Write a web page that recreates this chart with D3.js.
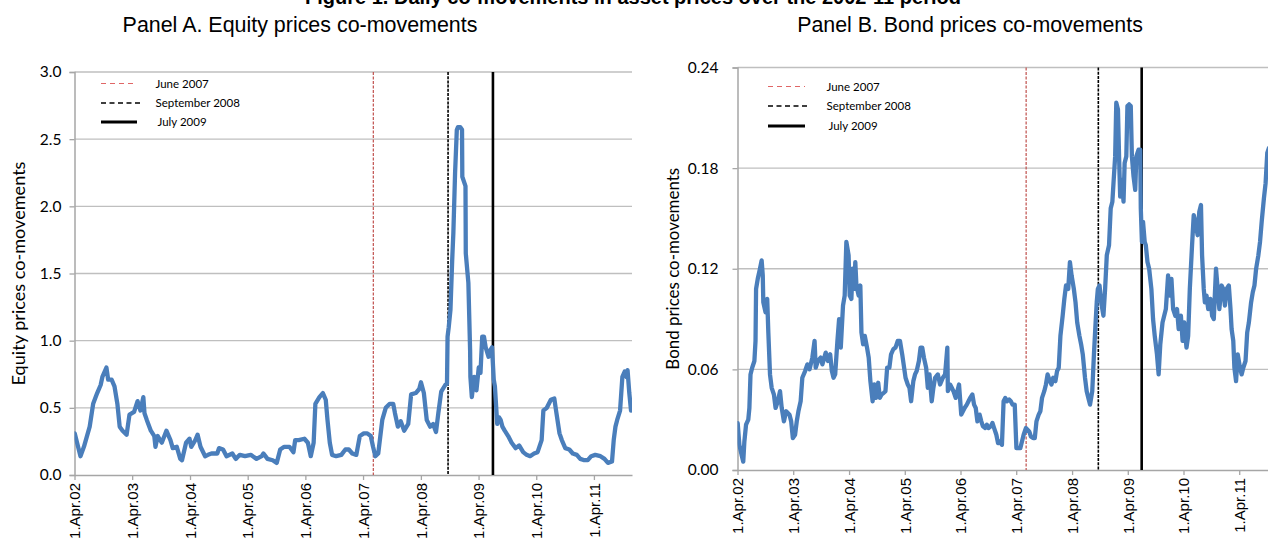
<!DOCTYPE html>
<html><head><meta charset="utf-8">
<script src="https://cdn.jsdelivr.net/npm/d3@7"></script>
<style>body{margin:0;background:#fff;}svg{display:block;}</style>
</head><body>
<svg id="chart" width="1268" height="543"></svg>
<script>
// ---------------- DATA ----------------
const chartTitle = "Figure 1. Daily co-movements in asset prices over the 2002-11 period";
const panelTitles = ["Panel A. Equity prices co-movements", "Panel B. Bond prices co-movements"];
const yTitles = ["Equity prices co-movements", "Bond prices co-movements"];
const tickLabels = ["1.Apr.02","1.Apr.03","1.Apr.04","1.Apr.05","1.Apr.06","1.Apr.07","1.Apr.08","1.Apr.09","1.Apr.10","1.Apr.11"];
const tickDates = ["2002-04-01","2003-04-01","2004-04-01","2005-04-01","2006-04-01","2007-04-01","2008-04-01","2009-04-01","2010-04-01","2011-04-01"];
const axisStart = "2002-04-01", axisEnd = "2011-11-28";
const equityTicks = [0, 0.5, 1.0, 1.5, 2.0, 2.5, 3.0];
const bondTicks = [0, 0.06, 0.12, 0.18, 0.24];
const eventDates = ["2007-06-05", "2008-09-20", "2009-07-01"];
const eventLabels = ["June 2007", "September 2008", "July 2009"];

// decimal-year dates and values
const equityYears = [2002.25,2002.35,2002.41,2002.51,2002.57,2002.64,2002.70,2002.73,2002.80,2002.83,2002.89,2002.94,2002.99,2003.03,2003.08,2003.15,2003.20,2003.28,2003.34,2003.39,2003.44,2003.46,2003.50,2003.57,2003.63,2003.65,2003.69,2003.76,2003.84,2003.91,2003.95,2004.02,2004.08,2004.11,2004.18,2004.24,2004.27,2004.34,2004.38,2004.43,2004.51,2004.56,2004.62,2004.72,2004.75,2004.82,2004.88,2004.98,2005.04,2005.11,2005.20,2005.30,2005.40,2005.49,2005.52,2005.59,2005.68,2005.75,2005.81,2005.88,2005.97,2006.04,2006.07,2006.13,2006.23,2006.29,2006.34,2006.39,2006.42,2006.49,2006.55,2006.60,2006.63,2006.67,2006.71,2006.78,2006.87,2006.94,2007.00,2007.06,2007.13,2007.19,2007.26,2007.32,2007.38,2007.42,2007.46,2007.51,2007.58,2007.64,2007.71,2007.77,2007.80,2007.85,2007.90,2007.96,2008.03,2008.08,2008.16,2008.22,2008.25,2008.30,2008.35,2008.41,2008.46,2008.51,2008.55,2008.60,2008.67,2008.70,2008.71,2008.73,2008.76,2008.79,2008.81,2008.84,2008.87,2008.89,2008.93,2008.96,2008.965,2009.02,2009.025,2009.07,2009.10,2009.105,2009.13,2009.17,2009.21,2009.25,2009.28,2009.31,2009.34,2009.37,2009.42,2009.45,2009.48,2009.51,2009.53,2009.57,2009.60,2009.63,2009.66,2009.70,2009.76,2009.82,2009.89,2009.95,2010.02,2010.08,2010.14,2010.21,2010.27,2010.34,2010.37,2010.43,2010.50,2010.56,2010.59,2010.65,2010.69,2010.75,2010.82,2010.88,2010.95,2011.01,2011.08,2011.14,2011.20,2011.27,2011.36,2011.43,2011.49,2011.56,2011.59,2011.62,2011.65,2011.70,2011.74,2011.78,2011.81,2011.83,2011.86,2011.89];
const equityValues = [0.31,0.14,0.21,0.36,0.53,0.61,0.67,0.73,0.80,0.71,0.71,0.66,0.53,0.36,0.33,0.30,0.45,0.47,0.55,0.48,0.58,0.46,0.41,0.33,0.29,0.21,0.29,0.24,0.33,0.26,0.20,0.21,0.12,0.11,0.24,0.27,0.21,0.26,0.30,0.21,0.14,0.15,0.16,0.16,0.20,0.19,0.14,0.16,0.12,0.15,0.14,0.15,0.12,0.14,0.16,0.12,0.11,0.09,0.19,0.21,0.21,0.17,0.26,0.26,0.27,0.24,0.14,0.24,0.53,0.58,0.61,0.56,0.41,0.24,0.15,0.14,0.15,0.19,0.19,0.16,0.15,0.29,0.31,0.31,0.29,0.21,0.14,0.16,0.41,0.50,0.53,0.53,0.46,0.36,0.40,0.33,0.38,0.60,0.61,0.64,0.69,0.61,0.41,0.36,0.38,0.32,0.46,0.62,0.67,0.68,1.03,1.10,1.23,1.60,1.80,2.25,2.57,2.59,2.59,2.57,2.22,2.15,1.65,1.43,0.93,0.73,0.58,0.73,0.63,0.80,0.76,1.03,1.03,0.95,0.88,0.93,0.95,0.71,0.66,0.38,0.43,0.41,0.36,0.33,0.29,0.24,0.20,0.22,0.17,0.15,0.14,0.16,0.17,0.26,0.48,0.50,0.56,0.57,0.48,0.31,0.26,0.20,0.19,0.16,0.15,0.12,0.11,0.11,0.14,0.15,0.14,0.12,0.09,0.10,0.26,0.36,0.41,0.48,0.73,0.77,0.73,0.78,0.61,0.48];

const bondYears = [2002.25,2002.28,2002.32,2002.35,2002.37,2002.40,2002.44,2002.46,2002.48,2002.51,2002.55,2002.57,2002.58,2002.61,2002.65,2002.68,2002.70,2002.71,2002.75,2002.78,2002.80,2002.83,2002.86,2002.90,2002.93,2002.97,2003.01,2003.04,2003.08,2003.12,2003.18,2003.21,2003.24,2003.28,2003.31,2003.34,2003.38,2003.41,2003.46,2003.50,2003.54,2003.59,2003.63,2003.65,2003.69,2003.74,2003.77,2003.83,2003.87,2003.91,2003.94,2003.97,2004.00,2004.04,2004.07,2004.10,2004.14,2004.17,2004.20,2004.24,2004.26,2004.29,2004.31,2004.34,2004.36,2004.38,2004.42,2004.45,2004.47,2004.50,2004.53,2004.57,2004.60,2004.63,2004.67,2004.70,2004.73,2004.77,2004.80,2004.83,2004.87,2004.90,2004.93,2004.97,2005.00,2005.04,2005.08,2005.12,2005.16,2005.20,2005.23,2005.26,2005.30,2005.33,2005.36,2005.40,2005.43,2005.46,2005.50,2005.53,2005.56,2005.59,2005.63,2005.66,2005.69,2005.73,2005.76,2005.79,2005.84,2005.88,2005.93,2005.97,2006.01,2006.02,2006.06,2006.09,2006.12,2006.16,2006.19,2006.22,2006.26,2006.29,2006.32,2006.36,2006.39,2006.42,2006.46,2006.49,2006.52,2006.55,2006.59,2006.62,2006.65,2006.69,2006.72,2006.75,2006.79,2006.82,2006.85,2006.89,2006.92,2006.95,2006.99,2007.02,2007.05,2007.08,2007.12,2007.15,2007.18,2007.22,2007.25,2007.28,2007.32,2007.35,2007.38,2007.42,2007.45,2007.48,2007.51,2007.55,2007.58,2007.61,2007.65,2007.68,2007.71,2007.75,2007.78,2007.81,2007.85,2007.88,2007.91,2007.95,2007.98,2008.01,2008.04,2008.08,2008.11,2008.14,2008.18,2008.21,2008.24,2008.28,2008.31,2008.34,2008.38,2008.41,2008.44,2008.48,2008.51,2008.54,2008.57,2008.61,2008.64,2008.67,2008.69,2008.71,2008.74,2008.77,2008.81,2008.84,2008.87,2008.91,2008.94,2008.97,2008.99,2009.02,2009.04,2009.07,2009.09,2009.11,2009.14,2009.17,2009.19,2009.22,2009.24,2009.27,2009.30,2009.32,2009.35,2009.38,2009.40,2009.44,2009.47,2009.48,2009.50,2009.52,2009.55,2009.57,2009.60,2009.63,2009.67,2009.70,2009.73,2009.77,2009.80,2009.83,2009.87,2009.90,2009.93,2009.97,2010.00,2010.03,2010.06,2010.10,2010.13,2010.16,2010.20,2010.23,2010.26,2010.30,2010.33,2010.36,2010.40,2010.43,2010.46,2010.50,2010.53,2010.56,2010.58,2010.61,2010.63,2010.66,2010.69,2010.73,2010.76,2010.79,2010.83,2010.86,2010.89,2010.93,2010.96,2010.99,2011.02,2011.06,2011.09,2011.11,2011.14,2011.16,2011.19,2011.22,2011.26,2011.29,2011.32,2011.36,2011.39,2011.42,2011.46,2011.49,2011.52,2011.55,2011.59,2011.62,2011.65,2011.69,2011.72,2011.75,2011.78];
const bondValues = [0.028,0.015,0.009,0.005,0.017,0.027,0.030,0.037,0.057,0.061,0.065,0.077,0.108,0.114,0.120,0.125,0.116,0.100,0.094,0.102,0.082,0.057,0.049,0.045,0.037,0.041,0.047,0.037,0.029,0.035,0.033,0.029,0.019,0.021,0.029,0.035,0.041,0.055,0.059,0.063,0.060,0.067,0.077,0.061,0.065,0.067,0.063,0.070,0.065,0.069,0.059,0.055,0.057,0.077,0.090,0.073,0.098,0.104,0.136,0.128,0.104,0.102,0.120,0.108,0.124,0.110,0.104,0.110,0.082,0.075,0.080,0.073,0.067,0.053,0.041,0.051,0.043,0.052,0.043,0.045,0.046,0.047,0.061,0.061,0.069,0.072,0.073,0.077,0.077,0.069,0.062,0.055,0.051,0.049,0.041,0.053,0.057,0.059,0.065,0.073,0.073,0.067,0.061,0.049,0.057,0.041,0.049,0.055,0.057,0.051,0.055,0.057,0.073,0.047,0.051,0.049,0.047,0.043,0.047,0.051,0.033,0.035,0.037,0.039,0.041,0.043,0.045,0.039,0.037,0.029,0.033,0.029,0.026,0.025,0.027,0.025,0.026,0.028,0.025,0.021,0.016,0.017,0.015,0.041,0.043,0.041,0.042,0.041,0.039,0.039,0.013,0.013,0.013,0.017,0.021,0.025,0.024,0.023,0.020,0.019,0.019,0.029,0.033,0.035,0.043,0.047,0.051,0.057,0.053,0.051,0.055,0.053,0.059,0.061,0.080,0.092,0.102,0.110,0.108,0.124,0.116,0.108,0.100,0.088,0.080,0.075,0.069,0.055,0.047,0.043,0.039,0.047,0.069,0.088,0.100,0.108,0.110,0.100,0.092,0.108,0.128,0.134,0.156,0.160,0.171,0.187,0.219,0.215,0.187,0.163,0.173,0.160,0.183,0.187,0.217,0.218,0.217,0.187,0.175,0.167,0.187,0.191,0.191,0.156,0.136,0.148,0.136,0.134,0.124,0.120,0.108,0.090,0.080,0.069,0.057,0.075,0.088,0.092,0.096,0.116,0.104,0.114,0.096,0.092,0.096,0.084,0.092,0.077,0.088,0.073,0.080,0.108,0.134,0.152,0.148,0.140,0.154,0.158,0.128,0.108,0.100,0.104,0.096,0.102,0.092,0.090,0.120,0.108,0.096,0.110,0.108,0.098,0.108,0.110,0.096,0.084,0.077,0.061,0.053,0.069,0.061,0.057,0.061,0.065,0.082,0.088,0.100,0.106,0.110,0.120,0.128,0.136,0.148,0.162,0.171,0.189,0.192];

// ---------------- HELPERS ----------------
const parse = d3.timeParse("%Y-%m-%d");
function fromDecimalYear(v){
  const y = Math.floor(v);
  const a = new Date(y,0,1), b = new Date(y+1,0,1);
  return new Date(+a + (v - y) * (b - a));
}
function fitText(sel, target){
  const node = sel.node();
  const fs = parseFloat(sel.attr("font-size"));
  const w = node.getComputedTextLength();
  if (w > 0) sel.attr("font-size", (fs * target / w).toFixed(2));
}

const svg = d3.select("#chart");
const BLUE = "#4a7ebb", GRID = "#bfbfbf", AXIS = "#a6a6a6";
const SANS = "'Liberation Sans', Arial, sans-serif";
const CAL = "Lato, 'Open Sans', sans-serif";

// Main title (partially cut off at top, as in the original)
svg.append("text").attr("x", 633).attr("y", 4).attr("text-anchor","middle")
  .attr("font-family", SANS).attr("font-weight","bold").attr("font-size", 20)
  .attr("fill","#000").text(chartTitle);

const panels = [
  {left:74.5, right:632, top:72, bottom:475, ticks:equityTicks, fmt:d3.format(".1f"),
   years:equityYears, values:equityValues, title:panelTitles[0], titleX:300, titleW:355,
   yTitle:yTitles[0], yTitleX:19, yTitleLen:224, yPad:8,
   legend:{lineX:[101,137], textX:155.5, rows:[83.5,103,122]}},
  {left:737.5, right:1276, top:67.5, bottom:470, ticks:bondTicks, fmt:d3.format(".2f"),
   years:bondYears, values:bondValues, title:panelTitles[1], titleX:970, titleW:346,
   yTitle:yTitles[1], yTitleX:673, yTitleLen:202, yPad:14,
   legend:{lineX:[768,805], textX:826.5, rows:[86.5,106,126]}}
];

panels.forEach(p => {
  const g = svg.append("g");
  const x = d3.scaleTime().domain([parse(axisStart), parse(axisEnd)]).range([p.left, p.right]);
  const y = d3.scaleLinear().domain([0, d3.max(p.ticks)]).range([p.bottom, p.top]);

  const t = g.append("text").attr("x", p.titleX).attr("y", 32).attr("text-anchor","middle")
    .attr("font-family", SANS).attr("font-size", 18).attr("fill","#000").text(p.title);
  fitText(t, p.titleW);

  g.append("g").selectAll("line").data(p.ticks.filter(v => v > 0)).join("line")
    .attr("x1", p.left).attr("x2", p.right)
    .attr("y1", d => y(d)).attr("y2", d => y(d))
    .attr("stroke", GRID).attr("stroke-width", 1.3);

  const ya = g.append("g").attr("transform", `translate(${p.left},0)`)
    .call(d3.axisLeft(y).tickValues(p.ticks).tickFormat(p.fmt).tickSize(5).tickPadding(p.yPad));
  ya.select(".domain").attr("stroke", AXIS).attr("stroke-width", 1.5);
  ya.selectAll(".tick line").attr("stroke", AXIS).attr("stroke-width", 1.3);
  ya.selectAll(".tick text").attr("font-family", CAL).attr("font-size", 15.5).attr("fill","#000");

  const xa = g.append("g").attr("transform", `translate(0,${p.bottom})`)
    .call(d3.axisBottom(x).tickValues(tickDates.map(parse))
      .tickFormat((d,i) => tickLabels[i]).tickSize(5).tickSizeOuter(0));
  xa.select(".domain").attr("stroke", AXIS).attr("stroke-width", 1.5);
  xa.selectAll(".tick line").attr("stroke", AXIS).attr("stroke-width", 1.3);
  xa.selectAll(".tick text").attr("font-family", SANS).attr("font-size", 15).attr("fill","#000")
    .attr("text-anchor","end").attr("transform","rotate(-90)")
    .attr("x", -8).attr("y", 0).attr("dy", "0.35em");

  const yt = g.append("text").attr("transform", `translate(${p.yTitleX},${(p.top+p.bottom)/2}) rotate(-90)`)
    .attr("text-anchor","middle").attr("dy","0.35em")
    .attr("font-family", CAL).attr("font-size", 15).attr("fill","#000").text(p.yTitle);
  fitText(yt, p.yTitleLen);

  const clipId = "clip" + Math.round(p.left);
  svg.append("clipPath").attr("id", clipId).append("rect")
    .attr("x", p.left).attr("y", p.top - 5).attr("width", p.right - p.left).attr("height", p.bottom - p.top + 5);

  const styles = [
    {stroke:"#c0504d", width:1.2, dash:"3,1.5"},
    {stroke:"#000", width:1.6, dash:"3,1.2"},
    {stroke:"#000", width:2.6, dash:null}
  ];
  eventDates.forEach((d,i) => {
    const s = styles[i];
    g.append("line").attr("x1", x(parse(d))).attr("x2", x(parse(d)))
      .attr("y1", p.top).attr("y2", p.bottom)
      .attr("stroke", s.stroke).attr("stroke-width", s.width)
      .attr("stroke-dasharray", s.dash);
  });

  const data = p.years.map((yr,i) => ({date: fromDecimalYear(yr), v: p.values[i]}));
  g.append("path").datum(data).attr("clip-path", `url(#${clipId})`)
    .attr("fill","none").attr("stroke", BLUE).attr("stroke-width", 4.3)
    .attr("stroke-linejoin","round").attr("stroke-linecap","round")
    .attr("d", d3.line().x(d => x(d.date)).y(d => y(d.v)));

  const legStyles = [
    {stroke:"#e06666", width:1.2, dash:"5,4"},
    {stroke:"#000", width:1.3, dash:"5,3.5"},
    {stroke:"#000", width:3.2, dash:null}
  ];
  eventLabels.forEach((lab,i) => {
    const s = legStyles[i];
    const ry = p.legend.rows[i];
    g.append("line").attr("x1", p.legend.lineX[0]).attr("x2", p.legend.lineX[1] + (i===1?5:0))
      .attr("y1", ry).attr("y2", ry)
      .attr("stroke", s.stroke).attr("stroke-width", s.width).attr("stroke-dasharray", s.dash);
    g.append("text").attr("x", p.legend.textX + (i===2?2:0)).attr("y", ry).attr("dy","0.35em")
      .attr("font-family", CAL).attr("font-size", 11.5).attr("fill","#000").text(lab);
  });
});
</script>
</body></html>
